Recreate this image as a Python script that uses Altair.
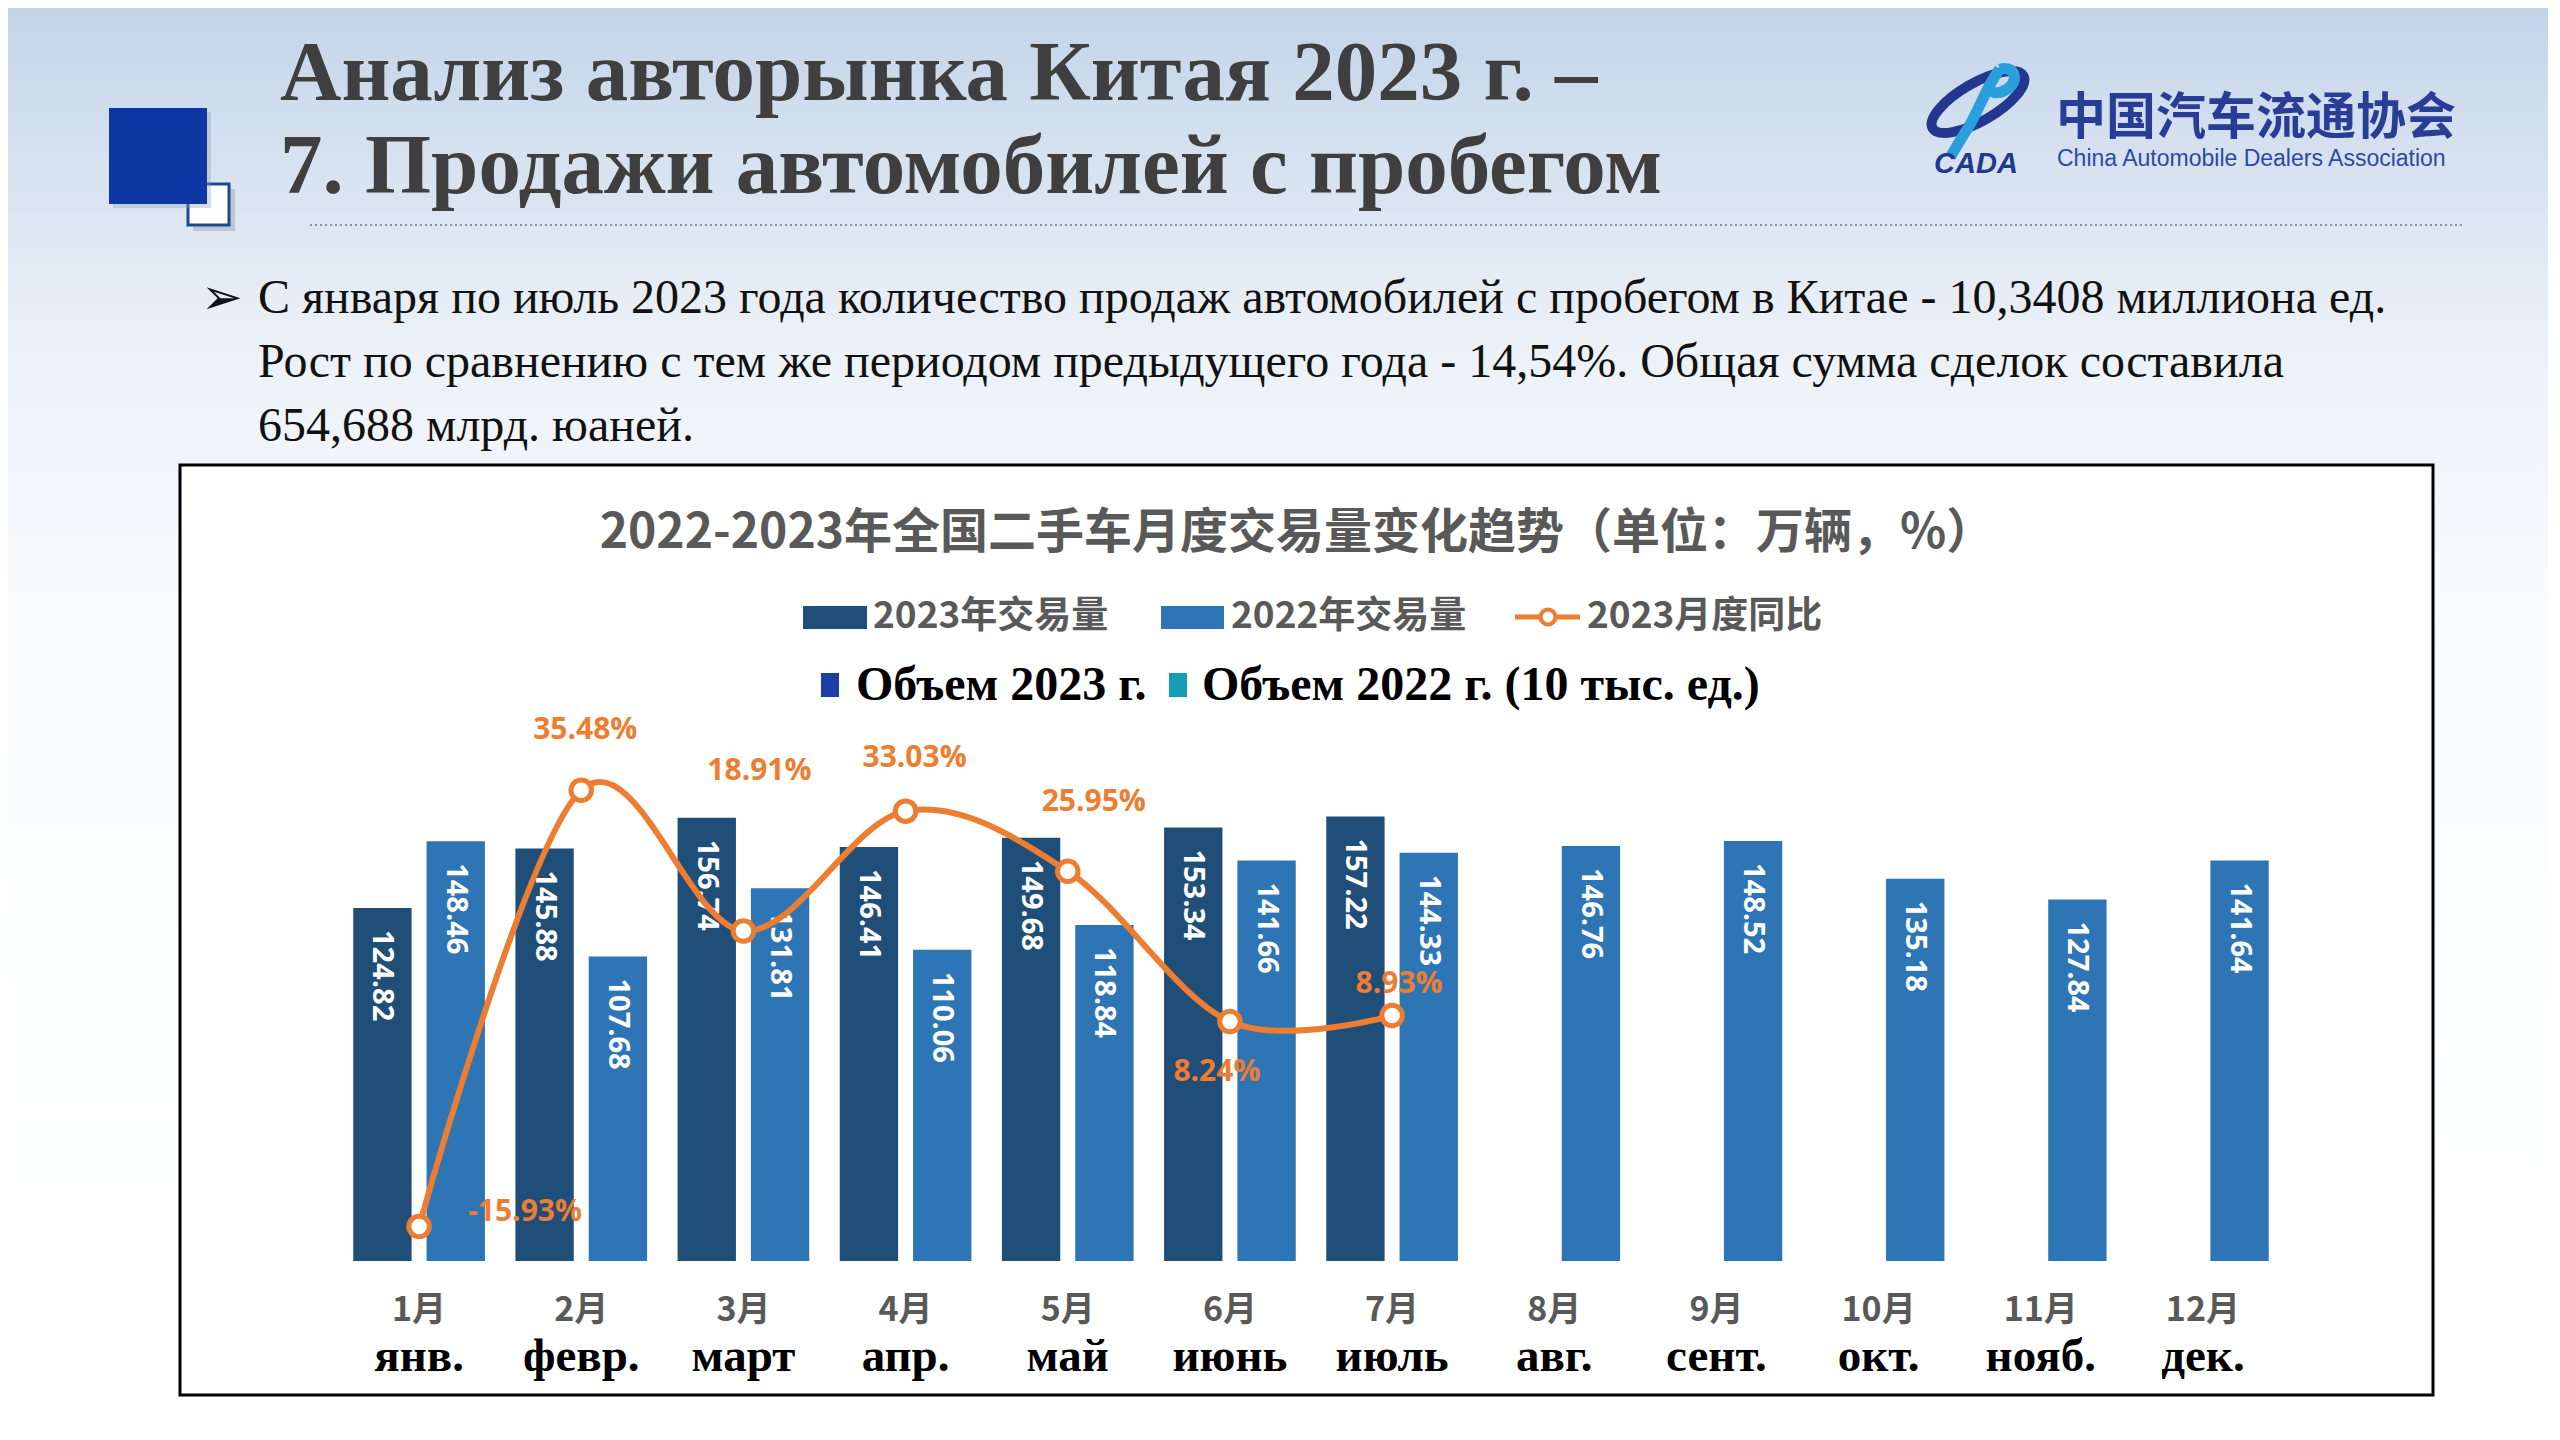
import altair as alt
import pandas as pd

# ---------------- data ----------------
months_cn = ["1月", "2月", "3月", "4月", "5月", "6月", "7月", "8月", "9月", "10月", "11月", "12月"]
months_ru = ["янв.", "февр.", "март", "апр.", "май", "июнь", "июль", "авг.", "сент.", "окт.", "нояб.", "дек."]
vol_2023 = [124.82, 145.88, 156.74, 146.41, 149.68, 153.34, 157.22]
vol_2022 = [148.46, 107.68, 131.81, 110.06, 118.84, 141.66, 144.33, 146.76, 148.52, 135.18, 127.84, 141.64]
yoy_2023 = [-15.93, 35.48, 18.91, 33.03, 25.95, 8.24, 8.93]

series_names = ["2023", "2022"]
legend_cn = ["2023年交易量", "2022年交易量", "2023月度同比"]
legend_ru = ["Объем 2023 г.", "Объем 2022 г. (10 тыс. ед.)"]
chart_title = "2022-2023年全国二手车月度交易量变化趋势（单位：万辆，%）"
slide_title = ["Анализ авторынка Китая 2023 г. –", "7. Продажи автомобилей с пробегом"]
bullet_lines = [
    "С января по июль 2023 года количество продаж автомобилей с пробегом в Китае - 10,3408 миллиона ед.",
    "Рост по сравнению с тем же периодом предыдущего года - 14,54%. Общая сумма сделок составила",
    "654,688 млрд. юаней.",
]
logo_cn = "中国汽车流通协会"
logo_en = "China Automobile Dealers Association"

bar_df = pd.DataFrame(
    [{"month": months_cn[i], "series": "2023", "value": v} for i, v in enumerate(vol_2023)]
    + [{"month": months_cn[i], "series": "2022", "value": v} for i, v in enumerate(vol_2022)]
)
yoy_df = pd.DataFrame({"month": months_cn[: len(yoy_2023)], "yoy": yoy_2023, "idx": list(range(len(yoy_2023)))})
month_df = pd.DataFrame({"month": months_cn, "ru": months_ru})
one = pd.DataFrame({"k": [0]})

# ---------------- layout / style ----------------
PAD_L, PAD_T, PAD_R, PAD_B = 330, 744, 264, 163
W, H = 1946, 509
OX, OY = 8 + PAD_L, 8 + PAD_T

C23 = "#1F4E79"
C22 = "#2E75B6"
ORANGE = "#ED7D31"
GRAY = "#595959"


def X(v):
    return v - OX


def Y(v):
    return v - OY


def rect(x1, y1, x2, y2, **kw):
    return alt.Chart(one).mark_rect(**kw).encode(
        x=alt.value(X(x1)), x2=alt.value(X(x2)), y=alt.value(Y(y1)), y2=alt.value(Y(y2))
    )


def text(t, x, y, **kw):
    return alt.Chart(one).mark_text(text=t, **kw).encode(x=alt.value(X(x)), y=alt.value(Y(y)))


def rule(x1, y1, x2, y2, **kw):
    return alt.Chart(one).mark_rule(**kw).encode(
        x=alt.value(X(x1)), x2=alt.value(X(x2)), y=alt.value(Y(y1)), y2=alt.value(Y(y2))
    )


def sym(x, y, **kw):
    return alt.Chart(one).mark_point(**kw).encode(x=alt.value(X(x)), y=alt.value(Y(y)))


xscale = alt.Scale(domain=months_cn, paddingInner=0.188, paddingOuter=0.094)
x_axis = alt.X(
    "month:N", sort=months_cn, scale=xscale,
    axis=alt.Axis(labels=False, ticks=False, title=None, domainColor="#d9d9d9", domainWidth=3, zindex=1, grid=False),
)
x_plain = alt.X("month:N", sort=months_cn, scale=xscale, axis=None)
xoff = alt.XOffset("series:N", scale=alt.Scale(domain=series_names, paddingInner=0.204, paddingOuter=0))
y_bar = alt.Y("value:Q", scale=alt.Scale(domain=[0, 180]), axis=None)
y_yoy = alt.Y("yoy:Q", scale=alt.Scale(domain=[-20, 40]), axis=None)

layers = []

# background gradient
bg = alt.LinearGradient(
    gradient="linear",
    stops=[
        alt.GradientStop(color="#c3d4e9", offset=0),
        alt.GradientStop(color="#d5e1ef", offset=0.1),
        alt.GradientStop(color="#edf2f8", offset=0.25),
        alt.GradientStop(color="#fbfcfe", offset=0.45),
        alt.GradientStop(color="#ffffff", offset=1),
    ],
    x1=0, x2=0, y1=0, y2=1,
)
layers.append(rect(8, 8, 2552, 1424, color=bg))

# decorative squares
layers.append(rect(193, 189, 235, 231, color="#9aa7b8", opacity=0.5))
layers.append(rect(188, 184, 229, 225, fill="white", stroke="#1a4c8c", strokeWidth=3))
layers.append(rect(113, 112, 211, 208, color="#8d9bb0", opacity=0.35))
layers.append(rect(109, 108, 207, 204, color="#0e37a6"))

# slide title
title_style = dict(font="Liberation Serif", fontWeight="bold", fontSize=85, color="#3f3f3f", align="left", baseline="alphabetic")
layers.append(text(slide_title[0], 280, 100, **title_style))
layers.append(text(slide_title[1], 280, 193, **title_style))

# dotted line
layers.append(rule(310, 225, 2465, 225, color="#8593a8", strokeWidth=2, strokeDash=[2, 3]))

# logo
ellipse = "M -1 0 A 1 0.36 0 1 0 1 0 A 1 0.36 0 1 0 -1 0 Z"
layers.append(sym(1978, 102, shape=ellipse, size=11000, angle=330, filled=False, stroke="#24378f", strokeWidth=10, opacity=1))
figure = "M 0.55 -0.95 C 0.2 -0.5 0.05 0.1 -0.25 0.5 L -0.55 1 M 0.55 -0.95 C 0.95 -1.05 1.0 -0.6 0.6 -0.45 C 0.4 -0.38 0.25 -0.5 0.35 -0.65"
layers.append(sym(1975, 112, shape=figure, size=8100, filled=False, stroke="#2a9fdc", strokeWidth=11, opacity=1))
layers.append(text("CADA", 1976, 164, font="Liberation Sans", fontStyle="italic", fontWeight="bold", fontSize=29, color="#24378f", align="center", baseline="middle"))
layers.append(text(logo_cn, 2056, 119, font="Noto Sans CJK SC", fontWeight="bold", fontSize=50, color="#2a3d96", align="left", baseline="middle"))
layers.append(text(logo_en, 2057, 159, font="Liberation Sans", fontSize=23, color="#2c4aa3", align="left", baseline="middle"))

# bullet text
layers.append(text("➢", 201, 299, font="DejaVu Sans", fontSize=50, color="#111111", align="left", baseline="middle"))
bl_style = dict(font="Liberation Serif", fontSize=48, color="#111111", align="left", baseline="alphabetic")
for i, line in enumerate(bullet_lines):
    layers.append(text(line, 258, 313 + 64 * i, **bl_style))

# chart box
layers.append(rect(180, 465, 2433, 1395, fill="white", stroke="black", strokeWidth=3))

# chart title
layers.append(text(chart_title, 1297, 534, font="Noto Sans CJK SC", fontWeight="bold", fontSize=48, color=GRAY, align="center", baseline="middle"))

# legend row 1
lg_style = dict(font="Noto Sans CJK SC", fontWeight="bold", fontSize=37, color=GRAY, align="left", baseline="middle")
layers.append(rect(803, 606, 867, 629, color=C23))
layers.append(text(legend_cn[0], 873, 617, **lg_style))
layers.append(rect(1161, 606, 1224, 629, color=C22))
layers.append(text(legend_cn[1], 1231, 617, **lg_style))
layers.append(rule(1515, 617, 1580, 617, color=ORANGE, strokeWidth=5))
layers.append(sym(1548, 617, shape="circle", filled=True, fill="white", stroke=ORANGE, strokeWidth=4, size=220, opacity=1))
layers.append(text(legend_cn[2], 1587, 617, **lg_style))

# legend row 2
lr_style = dict(font="Liberation Serif", fontWeight="bold", fontSize=48, color="black", align="left", baseline="middle")
layers.append(rect(821, 673, 839, 697, color="#1b3fa5"))
layers.append(text(legend_ru[0], 856, 686, **lr_style))
layers.append(rect(1169, 673, 1187, 697, color="#159eb3"))
layers.append(text(legend_ru[1], 1202, 686, **lr_style))

# bars
layers.append(
    alt.Chart(bar_df).mark_bar().encode(
        x=x_axis, xOffset=xoff, y=y_bar,
        color=alt.Color("series:N", scale=alt.Scale(domain=series_names, range=[C23, C22]), legend=None),
    )
)
layers.append(
    alt.Chart(bar_df).mark_text(
        angle=90, align="left", baseline="middle", dx=22, color="white",
        font="Open Sans", fontWeight="bold", fontSize=29,
    ).encode(x=x_plain, xOffset=xoff, y=y_bar, text=alt.Text("value:Q", format=".2f"))
)

# yoy line
layers.append(
    alt.Chart(yoy_df).mark_line(color=ORANGE, strokeWidth=6, interpolate="cardinal").encode(
        x=x_plain, y=y_yoy, order="idx:Q"
    )
)
layers.append(
    alt.Chart(yoy_df).mark_point(shape="circle", filled=True, fill="white", stroke=ORANGE, strokeWidth=5, size=420, opacity=1).encode(
        x=x_plain, y=y_yoy
    )
)

# yoy labels (offset per label, as placed in the original)
label_offsets = {"1月": (106, -14), "2月": (4, -60), "3月": (16, -160), "4月": (9, -53),
                 "5月": (26, -69), "6月": (-13, 51), "7月": (7, -32)}
for m, (ddx, ddy) in label_offsets.items():
    layers.append(
        alt.Chart(yoy_df).transform_filter(alt.datum.month == m)
        .transform_calculate(lbl="replace(format(datum.yoy, '.2f'), '\u2212', '-') + '%'")
        .mark_text(dx=ddx, dy=ddy, color=ORANGE, font="Open Sans", fontWeight="bold", fontSize=30, align="center", baseline="middle")
        .encode(x=x_plain, y=y_yoy, text="lbl:N")
    )

# month labels
layers.append(
    alt.Chart(month_df).mark_text(font="Noto Sans CJK SC", fontWeight="bold", fontSize=34, color=GRAY, baseline="middle").encode(
        x=x_plain, y=alt.value(Y(1311)), text="month:N"
    )
)
layers.append(
    alt.Chart(month_df).mark_text(font="Liberation Serif", fontWeight="bold", fontSize=47, color="black", baseline="alphabetic").encode(
        x=x_plain, y=alt.value(Y(1371)), text="ru:N"
    )
)

chart = (
    alt.layer(*layers)
    .resolve_scale(y="independent")
    .properties(
        width=W, height=H,
        autosize=alt.AutoSizeParams(type="none"),
        padding={"left": PAD_L, "top": PAD_T, "right": PAD_R, "bottom": PAD_B},
    )
    .configure_view(stroke=None)
)

chart.save("out.html", embed_options={"renderer": "svg", "actions": False})
